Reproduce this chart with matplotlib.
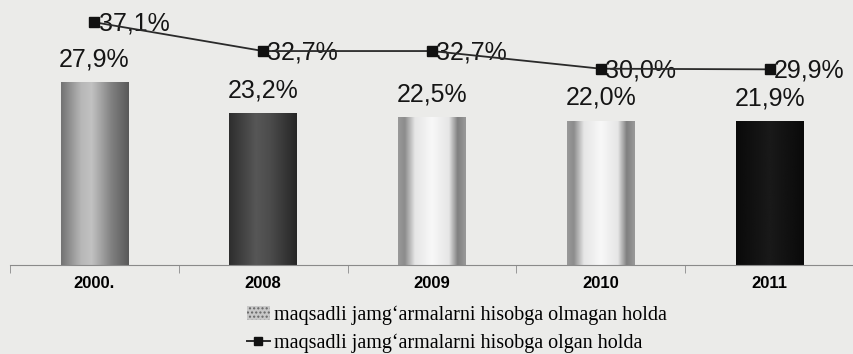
import numpy as np
import matplotlib
matplotlib.use('Agg')
import matplotlib.pyplot as plt
from matplotlib.patches import Patch
from matplotlib.lines import Line2D

years = ['2000.', '2008', '2009', '2010', '2011']
without_target = [27.9, 23.2, 22.5, 22.0, 21.9]  # bars, %
with_target = [37.1, 32.7, 32.7, 30.0, 29.9]     # line, %
legend_labels = ['maqsadli jamg‘armalarni hisobga olmagan holda',
                 'maqsadli jamg‘armalarni hisobga olgan holda']

# horizontal shading of each bar: (position across bar, grey level)
shades = [
    [(0, .45), (.3, .72), (.45, .76), (.75, .5), (1, .35)],
    [(0, .18), (.4, .34), (.6, .3), (1, .15)],
    [(0, .6), (.1, .55), (.25, .9), (.5, .97), (.75, .9), (.88, .5), (1, .6)],
    [(0, .6), (.1, .55), (.25, .9), (.5, .97), (.75, .9), (.88, .5), (1, .6)],
    [(0, .04), (.5, .1), (1, .04)],
]

bg = '#ebebe9'
fig = plt.figure(figsize=(8.54, 3.54), dpi=100, facecolor=bg)
ax = fig.add_axes([10 / 854, 89 / 354, 844 / 854, 265 / 354])
ax.set_facecolor(bg)

x = np.arange(len(years))
bars = ax.bar(x, without_target, width=0.4, color='none', zorder=2)
for b, sh in zip(bars, shades):
    pos, lev = zip(*sh)
    g = np.interp(np.linspace(0, 1, 200), pos, lev)[None, :]
    ax.imshow(g, cmap='gray', vmin=0, vmax=1, aspect='auto', zorder=2.1,
              extent=[b.get_x(), b.get_x() + b.get_width(), 0, b.get_height()])
    ax.annotate(f'{b.get_height():.1f}%'.replace('.', ','),
                (b.get_x() + b.get_width() / 2, b.get_height()),
                xytext=(0, 8), textcoords='offset points', ha='center', va='bottom',
                fontsize=18, family='Liberation Sans', color='#151515')

ax.plot(x, with_target, color='#2a2a2a', lw=1.3, marker='s', ms=7,
        mfc='#111111', mec='#111111', zorder=5)
for xi, v in zip(x, with_target):
    ax.annotate(f'{v:.1f}%'.replace('.', ','), (xi, v), xytext=(3, -1),
                textcoords='offset points', ha='left', va='center',
                fontsize=18, family='Liberation Sans', color='#151515', zorder=4)

ax.set_xlim(-0.5, len(years) - 0.5)
ax.set_ylim(0, 40.5)
ax.set_yticks([])
for s in ['left', 'right', 'top']:
    ax.spines[s].set_visible(False)
ax.spines['bottom'].set_color('#8a8a8a')
ax.set_xticks(x)
ax.set_xticklabels(years, fontsize=12, fontweight='bold', family='Liberation Sans')
ax.tick_params(axis='x', which='major', length=0, pad=8)
ax.set_xticks(np.arange(len(years) + 1) - 0.5, minor=True)
ax.tick_params(axis='x', which='minor', length=6, color='#8a8a8a')

handles = [Patch(facecolor='#c8c8c8', edgecolor='#666666', hatch='....', lw=0),
           Line2D([], [], color='#2a2a2a', lw=1.4, marker='s', ms=6, mfc='#111111', mec='#111111')]
fig.legend(handles, legend_labels, loc='center', bbox_to_anchor=(0.535, 0.07),
           frameon=False, prop={'family': 'Liberation Serif', 'size': 14.5},
           handlelength=1.1, handletextpad=0.2, labelspacing=0.4)

fig.savefig('out.png', dpi=100, facecolor=bg)
